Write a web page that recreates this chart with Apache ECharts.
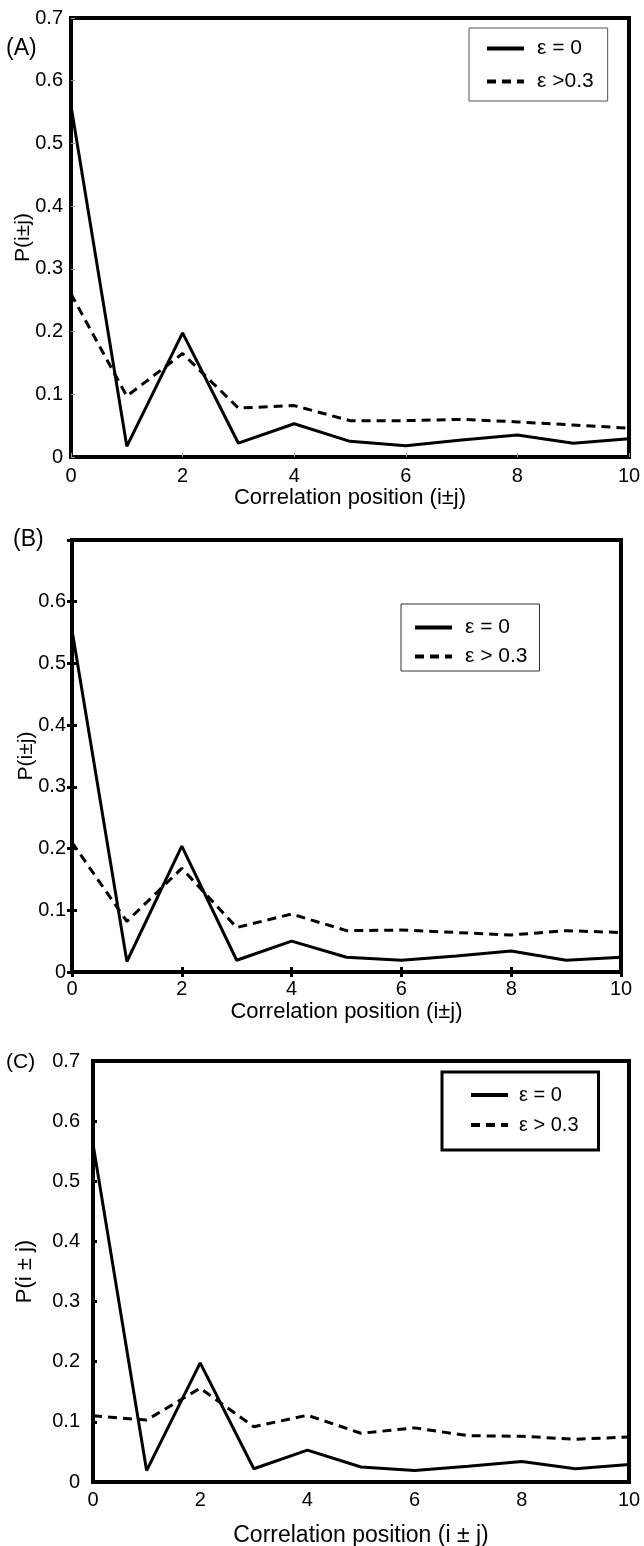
<!DOCTYPE html>
<html>
<head>
<meta charset="utf-8">
<script src="https://cdn.jsdelivr.net/npm/echarts@6/dist/echarts.min.js"></script>
<style>
  html, body { margin: 0; padding: 0; background: #fff; }
  #chart { width: 644px; height: 1546px; }
</style>
</head>
<body>
<div id="chart"></div>
<script>
// Correlation position (i ± j), shared by all three panels
const positions = [0, 1, 2, 3, 4, 5, 6, 7, 8, 9, 10];

// Panel A
const probA_eps0 = [0.56, 0.017, 0.198, 0.022, 0.053, 0.025, 0.018, 0.027, 0.035, 0.022, 0.029];
const probA_eps03 = [0.26, 0.097, 0.165, 0.078, 0.082, 0.058, 0.058, 0.060, 0.056, 0.051, 0.046];

// Panel B
const probB_eps0 = [0.554, 0.017, 0.204, 0.019, 0.050, 0.024, 0.019, 0.026, 0.034, 0.019, 0.024];
const probB_eps03 = [0.21, 0.082, 0.168, 0.072, 0.094, 0.067, 0.068, 0.064, 0.060, 0.067, 0.064];

// Panel C
const probC_eps0 = [0.562, 0.019, 0.198, 0.022, 0.053, 0.025, 0.019, 0.026, 0.034, 0.022, 0.029];
const probC_eps03 = [0.110, 0.103, 0.156, 0.092, 0.111, 0.081, 0.090, 0.077, 0.076, 0.071, 0.075];

// Tick labels
const xTickLabels = ['0', '2', '4', '6', '8', '10'];
const yTickLabelsA = ['0', '0.1', '0.2', '0.3', '0.4', '0.5', '0.6', '0.7'];
const yTickLabelsB = ['0', '0.1', '0.2', '0.3', '0.4', '0.5', '0.6', ''];
const yTickLabelsC = ['0', '0.1', '0.2', '0.3', '0.4', '0.5', '0.6', '0.7'];

// Text
const panelLabels = ['(A)', '(B)', '(C)'];
const legendNames = {
  A: ['ε = 0', 'ε >0.3'],
  B: ['ε = 0', 'ε > 0.3'],
  C: ['ε = 0', 'ε > 0.3']
};
const xTitles = ['Correlation position (i±j)', 'Correlation position (i±j)', 'Correlation position (i ± j)'];
const yTitles = ['P(i±j)', 'P(i±j)', 'P(i ± j)'];

const FONT = '"Liberation Sans", Arial, Helvetica, sans-serif';

const pairs = (ys) => positions.map((x, i) => [x, ys[i]]);

const grids = [
  { left: 71, top: 18, width: 558, height: 439 },
  { left: 72, top: 540, width: 549, height: 432 },
  { left: 93, top: 1061, width: 536, height: 421 }
];

const tickStyles = [
  { show: true, inside: true, length: 4, lineStyle: { color: '#9a9a9a', width: 1 } },
  { show: true, inside: true, length: 5, lineStyle: { color: '#000', width: 3 } },
  { show: true, inside: true, length: 4, lineStyle: { color: '#000', width: 3 } }
];

const yLabelSets = [yTickLabelsA, yTickLabelsB, yTickLabelsC];
const yLabelMargins = [8, 6, 13];
const xLabelMargins = [9, 7, 8];
const xNameGaps = [24, 29, 42];
const yNameGaps = [37, 35, 57];
const xNameSizes = [22, 22, 23];
const yNameSizes = [21, 21, 22];

const xAxes = [];
const yAxes = [];
grids.forEach((g, i) => {
  xAxes.push({
    type: 'value', gridIndex: i, min: 0, max: 10, interval: 2,
    name: xTitles[i], nameLocation: 'middle', nameGap: xNameGaps[i],
    nameTextStyle: { fontFamily: FONT, fontSize: xNameSizes[i], color: '#000' },
    axisLine: { show: false },
    axisTick: i === 2 ? { show: false } : tickStyles[i],
    splitLine: { show: false },
    axisLabel: {
      fontFamily: FONT, fontSize: 20, color: '#000', margin: xLabelMargins[i],
      formatter: (v) => xTickLabels[Math.round(v / 2)]
    }
  });
  yAxes.push({
    type: 'value', gridIndex: i, min: 0, max: 0.7, interval: 0.1,
    name: yTitles[i], nameLocation: 'middle', nameGap: yNameGaps[i], nameMoveOverlap: false,
    nameTextStyle: { fontFamily: FONT, fontSize: yNameSizes[i], color: '#000' },
    axisLine: { show: false },
    axisTick: tickStyles[i],
    splitLine: { show: false },
    axisLabel: {
      fontFamily: FONT, fontSize: 20, color: '#000', margin: yLabelMargins[i],
      formatter: (v) => yLabelSets[i][Math.round(v * 10)]
    }
  });
});

// Panel B carries mirrored ticks on the top and right edges
xAxes.push({
  type: 'value', gridIndex: 1, position: 'top', min: 0, max: 10, interval: 2,
  axisLine: { show: false }, axisTick: tickStyles[1],
  axisLabel: { show: false }, splitLine: { show: false }
});
yAxes.push({
  type: 'value', gridIndex: 1, position: 'right', min: 0, max: 0.7, interval: 0.1,
  axisLine: { show: false }, axisTick: tickStyles[1],
  axisLabel: { show: false }, splitLine: { show: false }
});

const solidStyle = { color: '#000', width: 3, type: 'solid' };
const dashedStyle = { color: '#000', width: 3, type: [9, 6] };

const panels = [
  { key: 'A', eps0: probA_eps0, eps03: probA_eps03 },
  { key: 'B', eps0: probB_eps0, eps03: probB_eps03 },
  { key: 'C', eps0: probC_eps0, eps03: probC_eps03 }
];

const series = [];
panels.forEach((p, i) => {
  series.push({
    type: 'line', name: legendNames[p.key][0], xAxisIndex: i, yAxisIndex: i,
    data: pairs(p.eps0), symbol: 'none', lineStyle: solidStyle, itemStyle: { color: '#000' },
    animation: false, z: 3
  });
  series.push({
    type: 'line', name: legendNames[p.key][1], xAxisIndex: i, yAxisIndex: i,
    data: pairs(p.eps03), symbol: 'none', lineStyle: dashedStyle, itemStyle: { color: '#000' },
    animation: false, z: 2
  });
});

// Legend icons show only the line stroke (no marker)
const legendCommon = {
  orient: 'vertical', selectedMode: false, itemWidth: 37, itemHeight: 14,
  backgroundColor: '#fff', itemStyle: { opacity: 0 },
  lineStyle: { width: 4, type: 'inherit', color: '#000' }
};

const legends = [
  Object.assign({}, legendCommon, {
    data: legendNames.A, left: 469, top: 28,
    padding: [10, 14, 9, 16], itemGap: 12,
    borderColor: '#555', borderWidth: 1,
    textStyle: { fontFamily: FONT, fontSize: 21, lineHeight: 20, color: '#000', padding: [0, 0, 0, 8] }
  }),
  Object.assign({}, legendCommon, {
    data: legendNames.B, left: 401, top: 604,
    padding: [13, 12, 4, 12], itemGap: 8,
    borderColor: '#333', borderWidth: 1,
    textStyle: { fontFamily: FONT, fontSize: 21, lineHeight: 20, color: '#000', padding: [0, 0, 0, 8] }
  }),
  Object.assign({}, legendCommon, {
    data: legendNames.C, left: 442, top: 1072,
    padding: [13, 20, 15, 27], itemGap: 10,
    borderColor: '#000', borderWidth: 3,
    textStyle: { fontFamily: FONT, fontSize: 20, lineHeight: 20, color: '#000', padding: [0, 0, 0, 6] }
  })
];

const titlePositions = [
  { left: 6, top: 37 },
  { left: 13, top: 528 },
  { left: 6, top: 1052 }
];

const chart = echarts.init(document.getElementById('chart'), null, { renderer: 'canvas' });
chart.setOption({
  animation: false,
  backgroundColor: '#fff',
  title: panelLabels.map((t, i) => ({
    text: t, left: titlePositions[i].left, top: titlePositions[i].top, padding: 0,
    textStyle: { fontFamily: FONT, fontSize: i === 2 ? 21 : 23, fontWeight: 'normal', color: '#000' }
  })),
  grid: grids.map((g) => Object.assign({
    show: true, borderColor: '#000', borderWidth: 4, backgroundColor: 'transparent',
    containLabel: false, outerBoundsMode: 'none'
  }, g)),
  xAxis: xAxes,
  yAxis: yAxes,
  legend: legends,
  series: series
});
</script>
</body>
</html>
